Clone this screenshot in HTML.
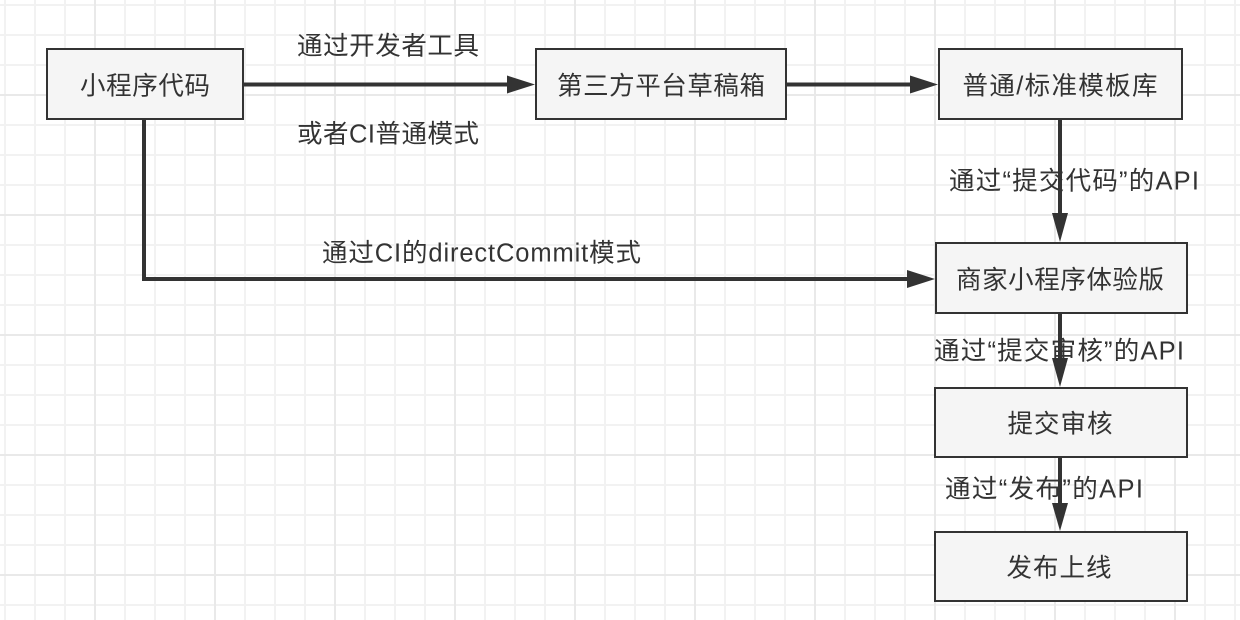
<!DOCTYPE html>
<html>
<head>
<meta charset="utf-8">
<style>
  html, body { margin: 0; padding: 0; background: #ffffff; }
  svg { display: block; }
  text { font-family: "Liberation Sans", "Noto Sans CJK SC", sans-serif; font-size: 25.5px; fill: #333333; }
</style>
</head>
<body>
<svg width="1240" height="620" viewBox="0 0 1240 620" xmlns="http://www.w3.org/2000/svg">
  <defs>
    <pattern id="minor" x="4" y="4" width="30" height="30" patternUnits="userSpaceOnUse">
      <rect x="0" y="0" width="2" height="30" fill="#f2f2f2"/>
      <rect x="0" y="0" width="30" height="2" fill="#f2f2f2"/>
    </pattern>
    <pattern id="major" x="94" y="94" width="120" height="120" patternUnits="userSpaceOnUse">
      <rect x="0" y="0" width="2" height="120" fill="#e9e9e9"/>
      <rect x="0" y="0" width="120" height="2" fill="#e9e9e9"/>
    </pattern>
  </defs>
  <rect width="1240" height="620" fill="#ffffff"/>
  <rect width="1240" height="620" fill="url(#minor)"/>
  <rect width="1240" height="620" fill="url(#major)"/>

  <!-- connectors -->
  <g stroke="#333333" stroke-width="4" fill="none">
    <line x1="244" y1="84.5" x2="510" y2="84.5"/>
    <line x1="786" y1="84.5" x2="913" y2="84.5"/>
    <line x1="1060" y1="120" x2="1060" y2="216"/>
    <polyline points="144,120 144,279 910,279"/>
    <line x1="1060" y1="313" x2="1060" y2="361"/>
    <line x1="1060" y1="457" x2="1060" y2="506"/>
  </g>
  <g fill="#333333">
    <polygon points="507,75.5 535,84.5 507,93.5"/>
    <polygon points="910,75.5 938,84.5 910,93.5"/>
    <polygon points="1052,213 1060,242 1068,213"/>
    <polygon points="907,270 935,279 907,288"/>
    <polygon points="1052,358 1060,387 1068,358"/>
    <polygon points="1052,503 1060,531 1068,503"/>
  </g>

  <!-- boxes -->
  <g stroke="#333333" stroke-width="2" fill="#f5f5f5">
    <rect x="47" y="49" width="196" height="70"/>
    <rect x="536" y="49" width="250" height="70"/>
    <rect x="939" y="49" width="243" height="70"/>
    <rect x="936" y="243" width="251" height="70"/>
    <rect x="935" y="388" width="252" height="69"/>
    <rect x="935" y="532" width="252" height="69"/>
  </g>

  <!-- box labels -->
  <g text-anchor="middle" dominant-baseline="central">
    <text x="145" y="86.5" textLength="130" lengthAdjust="spacing">小程序代码</text>
    <text x="661" y="86.5" textLength="208" lengthAdjust="spacing">第三方平台草稿箱</text>
    <text x="1060" y="86.5" textLength="195" lengthAdjust="spacing">普通/标准模板库</text>
    <text x="1060" y="280.5" textLength="208" lengthAdjust="spacing">商家小程序体验版</text>
    <text x="1060" y="424.5" textLength="105" lengthAdjust="spacing">提交审核</text>
    <text x="1059" y="568.5" textLength="105" lengthAdjust="spacing">发布上线</text>
  </g>

  <!-- edge labels -->
  <g text-anchor="middle" dominant-baseline="central">
    <text x="388" y="46.5" textLength="182" lengthAdjust="spacing">通过开发者工具</text>
    <text x="388" y="134.5" textLength="182" lengthAdjust="spacing">或者CI普通模式</text>
    <text x="481.5" y="253.5" textLength="319" lengthAdjust="spacing">通过CI的directCommit模式</text>
    <text x="1074" y="181.5" textLength="250" lengthAdjust="spacing">通过“提交代码”的API</text>
    <text x="1059" y="351.5" textLength="250" lengthAdjust="spacing">通过“提交审核”的API</text>
    <text x="1044" y="489.5" textLength="198" lengthAdjust="spacing">通过“发布”的API</text>
  </g>
</svg>
</body>
</html>
